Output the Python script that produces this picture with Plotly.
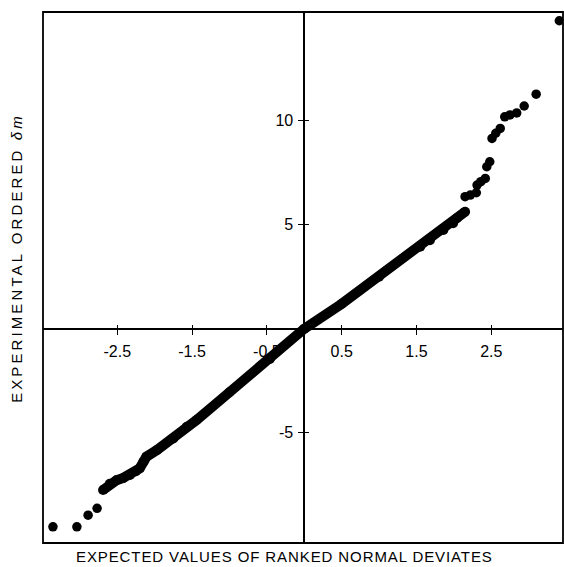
import plotly.graph_objects as go

# Dense central band of ordered points (expected normal deviate, ordered delta m)
band_x = [-2.69, -2.60, -2.51, -2.42, -2.33, -2.25, -2.20, -2.15, -2.11, -1.97,
          -1.75, -1.57, -1.44, -1.00, -0.46, 0.00, 0.50, 1.00, 1.55, 1.68,
          1.86, 1.99, 2.04, 2.15]
band_y = [-7.75, -7.45, -7.28, -7.17, -7.03, -6.85, -6.71, -6.40, -6.15, -5.83,
          -5.27, -4.71, -4.39, -3.05, -1.45, 0.00, 1.20, 2.50, 3.94, 4.26,
          4.75, 5.07, 5.31, 5.63]

# Isolated points in the tails
tail_x = [-3.36, -3.04, -2.89, -2.77,
          2.15, 2.22, 2.30, 2.31, 2.36, 2.42, 2.44, 2.48,
          2.51, 2.56, 2.62, 2.68, 2.75, 2.84, 2.94, 3.10, 3.41]
tail_y = [-9.52, -9.52, -8.96, -8.63,
          6.35, 6.43, 6.54, 6.91, 7.07, 7.23, 7.79, 8.03,
          9.15, 9.40, 9.63, 10.19, 10.28, 10.38, 10.71, 11.28, 14.81]

x_ticks = [-2.5, -1.5, -0.5, 0.5, 1.5, 2.5]
x_ticktext = ["-2.5", "-1.5", "-0.5", "0.5", "1.5", "2.5"]
y_ticks = [-5, 5, 10]
y_ticktext = ["-5", "5", "10"]

x_range = [-3.493, 3.459]
y_range = [-10.30, 15.23]
x_title = "EXPECTED VALUES OF RANKED NORMAL DEVIATES"
y_title = "EXPERIMENTAL ORDERED <i>δm</i>"

xpos = (0 - x_range[0]) / (x_range[1] - x_range[0])
ypos = (0 - y_range[0]) / (y_range[1] - y_range[0])

font = "Liberation Sans, Arial, sans-serif"

fig = go.Figure()
fig.add_trace(go.Scatter(x=band_x, y=band_y, mode="lines+markers",
                         line=dict(color="black", width=10),
                         marker=dict(color="black", size=10),
                         hoverinfo="skip", showlegend=False))
fig.add_trace(go.Scatter(x=tail_x, y=tail_y, mode="markers",
                         marker=dict(color="black", size=9.5),
                         hoverinfo="skip", showlegend=False))
# dummy trace to activate overlay axes used for inner tick halves
fig.add_trace(go.Scatter(x=[None], y=[None], xaxis="x2", yaxis="y2",
                         showlegend=False, hoverinfo="skip"))

axis_common = dict(showgrid=False, zeroline=False, showline=True,
                   linecolor="black", linewidth=1.6, tickcolor="black",
                   tickwidth=1.4, ticklen=5, anchor="free",
                   tickfont=dict(family=font, size=16, color="black"))

fig.update_layout(
    width=564, height=567,
    margin=dict(l=43, r=1, t=12, b=24),
    paper_bgcolor="white", plot_bgcolor="white",
    xaxis=dict(range=x_range, tickmode="array", tickvals=x_ticks,
               ticktext=x_ticktext, ticks="outside", position=ypos,
               ticklabelstandoff=3, **axis_common),
    yaxis=dict(range=y_range, tickmode="array", tickvals=y_ticks,
               ticktext=y_ticktext, ticks="outside", position=xpos,
               ticklabelstandoff=2, **axis_common),
    xaxis2=dict(range=x_range, overlaying="x", anchor="free", position=ypos,
                tickmode="array", tickvals=x_ticks, ticks="inside", ticklen=4,
                tickwidth=1.4, tickcolor="black", showticklabels=False,
                showline=False, showgrid=False, zeroline=False),
    yaxis2=dict(range=y_range, overlaying="y", anchor="free", position=xpos,
                tickmode="array", tickvals=y_ticks, ticks="inside", ticklen=4,
                tickwidth=1.4, tickcolor="black", showticklabels=False,
                showline=False, showgrid=False, zeroline=False),
    shapes=[dict(type="rect", xref="paper", yref="paper", x0=0, x1=1, y0=0, y1=1,
                 line=dict(color="black", width=1.8))],
    annotations=[
        dict(text='<span style="letter-spacing:0.9px">' + x_title + '</span>',
             xref="paper", yref="paper", x=0.465, y=-0.0245,
             xanchor="center", yanchor="middle", showarrow=False,
             font=dict(family=font, size=15, color="black")),
        dict(text='<span style="letter-spacing:3.1px">' + y_title + '</span>',
             xref="paper", yref="paper", x=-0.05, y=0.537, textangle=-90,
             xanchor="center", yanchor="middle", showarrow=False,
             font=dict(family=font, size=15, color="black")),
    ],
)

fig.write_html("out.html")
